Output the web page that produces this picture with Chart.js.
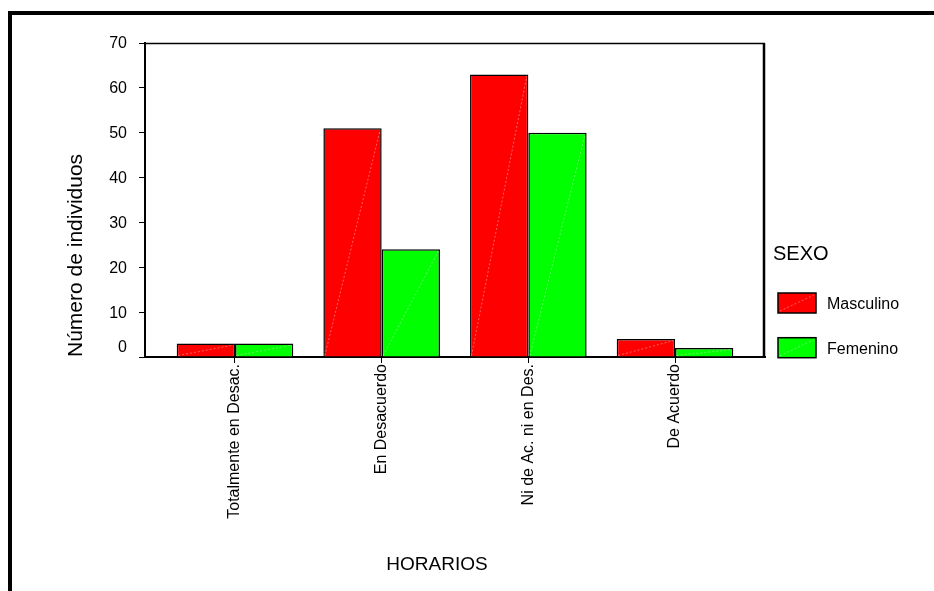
<!DOCTYPE html>
<html>
<head>
<meta charset="utf-8">
<script src="https://cdn.jsdelivr.net/npm/chart.js@4.4.0/dist/chart.umd.min.js"></script>
<style>
html,body{margin:0;padding:0;background:#fff;}
#wrap{position:relative;width:934px;height:591px;}
canvas{display:block;}
</style>
</head>
<body>
<div id="wrap"><canvas id="c" width="934" height="591"></canvas></div>
<script>
// ---- data ----
const categories = ['Totalmente en Desac.', 'En Desacuerdo', 'Ni de Ac. ni en Des.', 'De Acuerdo'];
const masculino = [3, 51, 63, 4];
const femenino = [3, 24, 50, 2];
const seriesNames = ['Masculino', 'Femenino'];
const yTicks = [0, 10, 20, 30, 40, 50, 60, 70];
const xTitle = 'HORARIOS';
const yTitle = 'Número de individuos';
const legendTitle = 'SEXO';

// ---- styles / layout ----
const FONT = '"Liberation Sans", Arial, sans-serif';
const RED = '#FF0000', GREEN = '#00FF00';
const X_MARGIN = 0.6136; // extra category margin on each side of the axis

Chart.defaults.font.family = FONT;
Chart.defaults.color = '#000';

const decor = {
  id: 'decor',
  beforeDraw(chart) {
    const ctx = chart.ctx;
    ctx.save();
    ctx.fillStyle = '#fff';
    ctx.fillRect(0, 0, chart.width, chart.height);
    ctx.fillStyle = '#000';
    ctx.fillRect(8, 11, 4, chart.height - 11);
    ctx.fillRect(8, 11, chart.width - 8, 4);
    ctx.restore();
  },
  afterDatasetsDraw(chart) {
    const ctx = chart.ctx;
    ctx.save();
    ctx.strokeStyle = 'rgba(255,255,255,0.55)';
    ctx.lineWidth = 0.7;
    ctx.setLineDash([2, 2]);
    chart.data.datasets.forEach((ds, i) => {
      chart.getDatasetMeta(i).data.forEach(el => {
        const p = el.getProps(['x', 'y', 'base', 'width'], true);
        ctx.beginPath();
        ctx.moveTo(p.x - p.width / 2 + 1.5, p.base - 1);
        ctx.lineTo(p.x + p.width / 2 - 1.5, p.y + 1.5);
        ctx.stroke();
      });
    });
    ctx.restore();
  },
  afterDraw(chart) {
    const ctx = chart.ctx;
    const a = chart.chartArea;
    const ys = chart.scales.y;
    ctx.save();
    // plot frame top/right
    ctx.strokeStyle = '#000';
    ctx.lineWidth = 1.5;
    ctx.beginPath();
    ctx.moveTo(a.left, a.top + 0.5);
    ctx.lineTo(a.right, a.top + 0.5);
    ctx.stroke();
    ctx.lineWidth = 2.5;
    ctx.beginPath();
    ctx.moveTo(a.right - 1, a.top);
    ctx.lineTo(a.right - 1, a.bottom + 1);
    ctx.stroke();
    // y tick labels
    ctx.fillStyle = '#000';
    ctx.font = '16px ' + FONT;
    ctx.textAlign = 'right';
    ctx.textBaseline = 'middle';
    yTicks.forEach(v => {
      const py = ys.getPixelForValue(v);
      ctx.fillText(String(v), a.left - 18, v === 0 ? py - 9 : py + 1);
    });
    // x title
    ctx.font = '19px ' + FONT;
    ctx.textAlign = 'center';
    ctx.fillText(xTitle, (a.left + a.right) / 2 - 18, 565);
    // legend
    ctx.textAlign = 'left';
    ctx.font = '20px ' + FONT;
    ctx.fillText(legendTitle, a.right + 8, 254);
    ctx.font = '16px ' + FONT;
    chart.data.datasets.forEach((ds, i) => {
      const bx = a.right + 13, by = 293 + i * 44.7, bw = 38, bh = 20;
      ctx.fillStyle = ds.backgroundColor;
      ctx.fillRect(bx, by, bw, bh);
      ctx.strokeStyle = '#000';
      ctx.lineWidth = 1.5;
      ctx.setLineDash([]);
      ctx.strokeRect(bx, by, bw, bh);
      ctx.strokeStyle = 'rgba(255,255,255,0.55)';
      ctx.lineWidth = 0.7;
      ctx.setLineDash([2, 2]);
      ctx.beginPath();
      ctx.moveTo(bx + 2, by + bh - 2);
      ctx.lineTo(bx + bw - 2, by + 2);
      ctx.stroke();
      ctx.setLineDash([]);
      ctx.fillStyle = '#000';
      ctx.fillText(ds.label, bx + 49, by + 11.5);
    });
    ctx.restore();
  }
};

new Chart(document.getElementById('c'), {
  type: 'bar',
  data: {
    labels: categories,
    datasets: [
      { label: seriesNames[0], data: masculino, backgroundColor: RED, borderColor: '#000', borderWidth: 1.5 },
      { label: seriesNames[1], data: femenino, backgroundColor: GREEN, borderColor: '#000', borderWidth: 1.5 }
    ]
  },
  options: {
    responsive: false,
    animation: false,
    events: [],
    layout: { padding: { left: 0, right: 169, top: 43, bottom: 0 } },
    datasets: { bar: { categoryPercentage: 0.795, barPercentage: 1.0 } },
    plugins: { legend: { display: false }, tooltip: { enabled: false } },
    scales: {
      x: {
        type: 'category',
        afterBuildTicks: (s) => {
          s._startValue = -X_MARGIN;
          s._valueRange = categories.length - 1 + 2 * X_MARGIN;
        },
        afterFit: (s) => { s.height = 234; },
        border: { display: true, color: '#000', width: 2 },
        grid: { display: true, drawOnChartArea: false, drawTicks: true, tickLength: 6, color: '#000', lineWidth: 1, offset: false },
        ticks: { color: '#000', font: { size: 16 }, minRotation: 90, maxRotation: 90, autoSkip: false, padding: 1 },
        title: { display: false }
      },
      y: {
        min: 0,
        max: 70,
        afterBuildTicks: (s) => { s.ticks = yTicks.map(v => ({ value: v })); },
        afterFit: (s) => { s.width = 145; },
        border: { display: true, color: '#000', width: 2 },
        grid: { display: true, drawOnChartArea: false, drawTicks: true, tickLength: 6, color: '#000', lineWidth: 1 },
        ticks: { display: false },
        title: { display: true, text: yTitle, align: 'start', color: '#000', font: { size: 21 }, padding: { top: 64, bottom: 0 } }
      }
    }
  },
  plugins: [decor]
});
</script>
</body>
</html>
